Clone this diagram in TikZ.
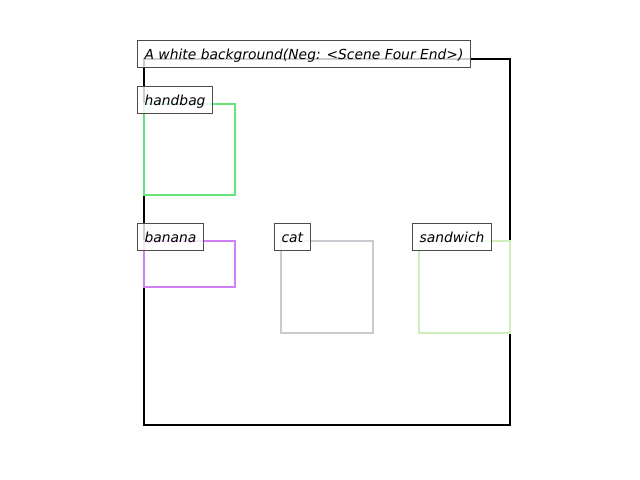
\documentclass[tikz,border=0pt]{standalone}
\usepackage{fontspec}
\setmainfont{DejaVu Sans}
\begin{document}
\begin{tikzpicture}[x=0.01in,y=-0.01in,
  frame/.style={draw=black,line width=2.1pt},
  bbox/.style={line width=2.1pt},
  lab/.style={draw=black!70,fill=white,fill opacity=0.8,text opacity=1,line width=0.9pt,
    anchor=north west,inner xsep=0.07in,inner ysep=0pt,minimum height=0.27in,
    font=\fontsize{10pt}{12pt}\selectfont\itshape,text height=9pt,text depth=1.5pt}]
\useasboundingbox (0,0) rectangle (640,480);
\draw[frame] (144,59) rectangle (510,425);
\draw[bbox,draw={rgb,255:red,104;green,226;blue,122}] (144,104) rectangle (235,195);
\draw[bbox,draw={rgb,255:red,212;green,128;blue,245}] (144,241) rectangle (235,287);
\draw[bbox,draw={rgb,255:red,200;green,204;blue,208}] (281,241) rectangle (373,333);
\draw[bbox,draw={rgb,255:red,208;green,238;blue,188}] (419,241) rectangle (510,333);
\node[lab] (t) at (137,40) {A white background(Neg: <Scene Four End>)};
\node[lab] (h) at (137,86) {handbag};
\node[lab] (b) at (137,223) {banana};
\node[lab] (c) at (274,223) {cat};
\node[lab] (s) at (412,223) {sandwich};
\end{tikzpicture}
\end{document}
